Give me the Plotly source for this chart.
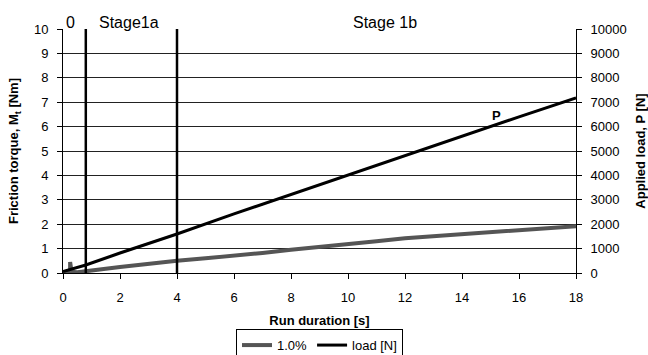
import plotly.graph_objects as go

# Friction torque (1.0%) series [Nm]
fric_t = [0.0, 0.2, 0.25, 0.25, 0.3, 0.5, 1.0, 1.5, 2.0, 2.5, 3.0, 3.5, 4.0, 5.0, 6.0, 7.0, 8.0, 9.0,
          10.0, 11.0, 12.0, 13.0, 14.0, 15.0, 16.0, 17.0, 18.0]
fric_v = [0.03, 0.04, 0.05, 0.45, 0.05, 0.03, 0.08, 0.17, 0.25, 0.32, 0.38, 0.44, 0.5, 0.6, 0.7, 0.82, 0.95, 1.08,
          1.2, 1.3, 1.42, 1.5, 1.62, 1.7, 1.76, 1.84, 1.92]

# Applied load series [N]
load_t = [0.0, 0.8, 2.0, 4.0, 6.0, 8.0, 10.0, 12.0, 14.0, 16.0, 18.0]
load_v = [60, 330, 820, 1600, 2420, 3220, 4020, 4800, 5620, 6400, 7180]

stage_bounds = [0.8, 4.0]
stage_labels = [("0", 0.25), ("Stage1a", 2.3), ("Stage 1b", 11.3)]

FONT = "Liberation Sans, Arial, sans-serif"

fig = go.Figure()
fig.add_trace(go.Scatter(x=fric_t, y=fric_v, mode="lines", name="1.0%",
                         line=dict(color="#555555", width=4)))
fig.add_trace(go.Scatter(x=load_t, y=load_v, mode="lines", name="load [N]", yaxis="y2",
                         line=dict(color="black", width=3)))

for b in stage_bounds:
    fig.add_vline(x=b, line=dict(color="black", width=2.5))

for txt, xpos in stage_labels:
    fig.add_annotation(x=xpos, y=1.0, xref="x", yref="paper", text=txt, showarrow=False,
                       yanchor="bottom", yshift=-4, font=dict(size=16, color="black", family=FONT))

fig.add_annotation(x=15.2, y=6450, xref="x", yref="y2", text="<b>P</b>", showarrow=False,
                   font=dict(size=13, color="black", family=FONT))

fig.update_layout(
    width=648, height=355,
    margin=dict(l=63, r=72, t=29, b=82, autoexpand=False),
    paper_bgcolor="white", plot_bgcolor="white",
    font=dict(family=FONT, size=13, color="black"),
    showlegend=True,
    legend=dict(orientation="h", x=0.5, xanchor="center", y=-0.23, yanchor="top",
                bordercolor="black", borderwidth=1, font=dict(size=13),
                itemwidth=30, tracegroupgap=0),
    xaxis=dict(range=[0, 18], dtick=2, showgrid=False, zeroline=False, automargin=False,
               showline=True, linecolor="black", linewidth=1,
               ticks="outside", ticklen=5, tickcolor="black", ticklabelstandoff=7,
               title=dict(text="<b>Run duration [s]</b>", font=dict(size=13), standoff=12)),
    yaxis=dict(range=[0, 10], dtick=1, showgrid=True, gridcolor="#222222", gridwidth=1,
               zeroline=False, showline=True, linecolor="black", linewidth=1, automargin=False,
               ticks="outside", ticklen=5, tickcolor="black", ticklabelstandoff=6,
               title=dict(text="<b>Friction torque, M<sub>t</sub> [Nm]</b>", font=dict(size=13), standoff=12)),
    yaxis2=dict(range=[0, 10000], dtick=1000, overlaying="y", side="right", showgrid=False,
                zeroline=False, showline=True, linecolor="black", linewidth=1, automargin=False,
                tickformat="d", ticks="outside", ticklen=5, tickcolor="black", ticklabelstandoff=6,
                title=dict(text="<b>Applied load, P [N]</b>", font=dict(size=13), standoff=10)),
)

fig.write_html("out.html")
